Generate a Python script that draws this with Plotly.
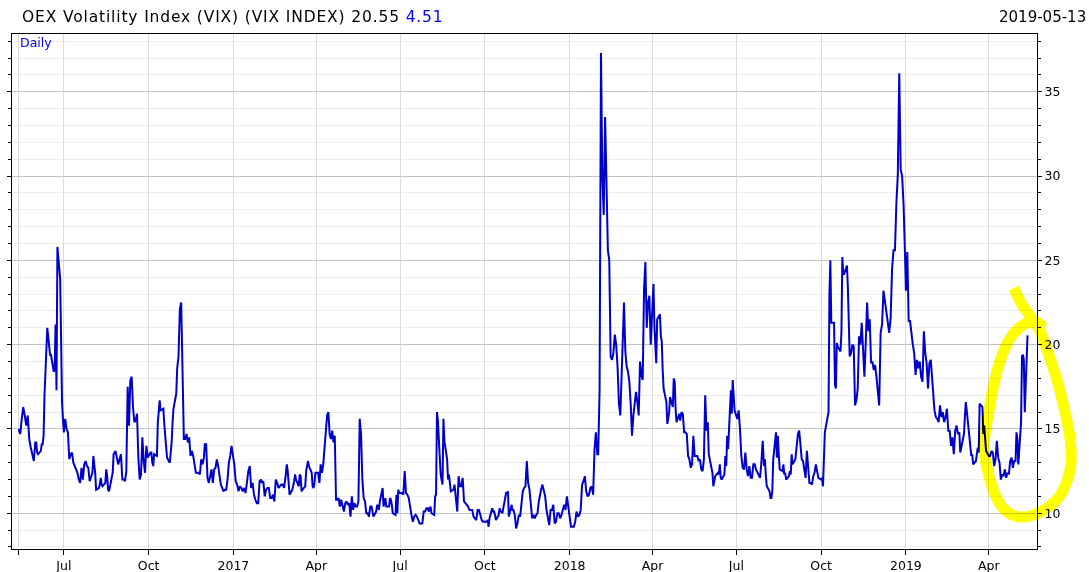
import numpy as np
import pandas as pd
import plotly.graph_objects as go

# ---------------- data: VIX daily closes, one list per month ----------------
vix_2016_05 = [15.0, 14.7, 15.6, 16.3, 15.8, 15.2, 15.8, 14.4, 13.9, 13.4, 13.1, 14.2]
vix_2016_06 = [14.2, 13.6, 13.5, 13.7, 14.1, 14.1, 14.6, 17.0, 21.0, 20.5, 20.1, 19.4, 19.4, 18.4, 18.5, 21.2, 17.3, 25.8, 23.9, 18.8, 16.6, 15.6]
vix_2016_07 = [14.8, 15.6, 15.0, 14.8, 13.2, 13.5, 13.6, 13.0, 12.8, 12.7, 12.4, 12.0, 11.8, 12.7, 12.0, 12.9, 13.1, 12.8, 12.7, 11.9]
vix_2016_08 = [12.4, 13.4, 12.9, 12.4, 11.4, 11.5, 11.7, 12.1, 11.7, 11.6, 11.8, 12.6, 12.2, 11.4, 11.3, 12.3, 12.4, 13.5, 13.6, 13.7, 12.9, 13.1, 13.4]
vix_2016_09 = [13.5, 12.0, 12.0, 11.9, 12.5, 17.5, 15.2, 17.9, 18.1, 16.3, 15.4, 15.5, 15.9, 13.3, 12.0, 12.3, 14.5, 13.1, 12.4, 14.0, 13.3]
vix_2016_10 = [13.6, 13.6, 13.0, 12.8, 13.5, 13.4, 15.4, 15.9, 16.7, 16.1, 16.2, 15.3, 14.4, 13.8, 13.3, 13.0, 13.5, 14.2, 15.4, 16.2, 17.1]
vix_2016_11 = [18.6, 19.3, 22.1, 22.5, 18.7, 14.4, 14.4, 14.7, 14.2, 14.5, 13.4, 13.7, 13.4, 12.9, 12.4, 12.4, 12.4, 12.3, 13.2, 12.9, 13.3]
vix_2016_12 = [14.1, 14.1, 12.1, 11.8, 12.2, 12.6, 11.8, 12.6, 12.7, 13.2, 12.8, 12.2, 11.7, 11.5, 11.3, 11.4, 11.4, 12.0, 13.0, 13.4, 14.0]
vix_2017_01 = [12.9, 11.9, 11.7, 11.3, 11.6, 11.5, 11.3, 11.5, 11.2, 11.9, 12.5, 12.8, 11.5, 11.8, 11.1, 10.8, 10.6, 10.6, 11.9, 12.0]
vix_2017_02 = [11.8, 11.9, 11.0, 11.4, 11.5, 11.5, 10.9, 10.9, 11.1, 10.7, 12.0, 11.8, 11.5, 11.6, 11.7, 11.7, 11.5, 12.1, 12.9]
vix_2017_03 = [12.5, 11.8, 11.1, 11.4, 11.6, 11.9, 12.3, 12.0, 11.6, 12.3, 12.2, 11.3, 11.4, 11.6, 12.5, 12.8, 13.1, 12.8, 12.4, 11.6, 11.5, 11.8, 12.4]
vix_2017_04 = [12.4, 11.8, 12.9, 12.4, 12.9, 14.1, 15.1, 15.8, 16.0, 14.7, 14.4, 14.9, 14.2, 14.6, 10.8, 10.8, 10.9, 10.4, 10.8]
vix_2017_05 = [10.1, 10.6, 10.7, 10.5, 10.6, 9.8, 11.0, 10.2, 10.6, 10.4, 10.4, 10.7, 15.6, 14.7, 12.0, 10.9, 10.7, 10.0, 10.0, 9.8, 10.4, 10.4]
vix_2017_06 = [9.9, 9.8, 10.1, 10.5, 10.4, 10.2, 10.7, 11.5, 10.4, 10.6, 10.9, 10.4, 10.4, 10.9, 10.8, 10.5, 10.0, 9.9, 11.1, 10.0, 11.4, 11.2]
vix_2017_07 = [11.2, 11.1, 12.5, 11.2, 11.1, 10.9, 10.3, 9.9, 9.5, 9.8, 9.9, 9.8, 9.6, 9.4, 9.4, 9.4, 10.1, 10.1, 10.3, 10.3]
vix_2017_08 = [10.1, 10.3, 10.4, 10.0, 9.9, 11.0, 11.1, 16.0, 15.5, 12.3, 12.0, 11.7, 15.6, 14.3, 13.2, 12.0, 12.3, 11.6, 11.3, 11.4, 11.7, 11.2, 10.6]
vix_2017_09 = [10.1, 12.2, 11.6, 11.6, 12.1, 10.7, 10.6, 10.5, 10.4, 10.2, 10.2, 10.2, 9.8, 9.7, 9.6, 10.2, 10.2, 9.9, 9.6, 9.5]
vix_2017_10 = [9.5, 9.5, 9.6, 9.2, 9.7, 10.3, 10.1, 10.1, 9.9, 9.6, 9.9, 10.3, 10.1, 10.1, 10.0, 11.1, 11.2, 11.2, 11.3, 9.8, 10.5, 10.2]
vix_2017_11 = [10.2, 9.9, 9.1, 9.4, 9.9, 9.8, 10.5, 11.3, 11.5, 11.6, 13.1, 11.8, 11.4, 10.7, 9.7, 9.9, 9.7, 9.9, 10.0, 10.7, 11.3]
vix_2017_12 = [11.4, 11.7, 11.3, 11.0, 10.2, 9.6, 9.3, 10.2, 10.2, 10.5, 9.4, 9.5, 10.0, 10.0, 9.7, 9.9, 10.3, 10.5, 10.2, 11.0]
vix_2018_01 = [9.8, 9.2, 9.2, 9.2, 9.5, 10.1, 9.8, 9.9, 10.2, 11.7, 11.9, 12.2, 11.3, 11.0, 11.1, 11.5, 11.6, 11.1, 13.8, 14.8, 13.5]
vix_2018_02 = [13.5, 17.3, 37.3, 30.0, 27.7, 33.5, 29.1, 25.6, 25.0, 19.3, 19.1, 19.5, 20.6, 20.0, 18.7, 16.5, 15.8, 18.6, 19.9]
vix_2018_03 = [22.5, 19.6, 18.7, 18.4, 17.8, 16.5, 14.6, 15.8, 16.4, 17.2, 16.6, 15.8, 19.0, 18.2, 17.9, 23.3, 24.9, 21.0, 22.5, 22.9, 20.0]
vix_2018_04 = [23.6, 21.1, 20.1, 18.9, 21.5, 21.8, 20.5, 20.2, 18.5, 17.4, 16.6, 15.3, 15.6, 16.0, 16.9, 16.3, 18.0, 17.8, 16.2, 15.4, 15.9]
vix_2018_05 = [15.5, 16.0, 15.9, 14.8, 14.8, 14.7, 13.4, 13.2, 12.7, 12.9, 14.6, 13.4, 13.4, 13.4, 13.1, 13.2, 12.6, 12.5, 13.2, 17.0, 14.9, 15.4]
vix_2018_06 = [13.5, 12.7, 12.4, 11.6, 12.1, 12.2, 12.4, 12.3, 12.9, 12.1, 12.0, 12.3, 13.4, 12.8, 14.6, 13.8, 17.3, 15.9, 17.9, 16.9, 16.1]
vix_2018_07 = [15.6, 16.1, 15.0, 13.4, 12.7, 12.6, 13.6, 12.6, 12.2, 12.8, 12.1, 12.1, 12.9, 12.9, 12.6, 12.4, 12.3, 12.1, 13.0, 14.3, 12.8]
vix_2018_08 = [13.2, 12.2, 11.6, 11.3, 10.9, 10.9, 11.3, 13.2, 14.8, 13.3, 14.6, 13.5, 12.6, 12.5, 12.9, 12.3, 12.4, 12.0, 12.2, 12.5, 12.3, 13.5, 12.9]
vix_2018_09 = [13.2, 13.9, 14.7, 14.9, 14.2, 13.2, 13.1, 12.4, 12.1, 13.7, 12.8, 11.8, 11.8, 11.7, 12.2, 12.4, 12.9, 12.4, 12.1]
vix_2018_10 = [12.0, 12.1, 11.6, 14.2, 14.8, 15.7, 16.0, 23.0, 25.0, 21.3, 21.3, 17.6, 17.4, 20.1, 19.9, 19.6, 20.7, 25.2, 24.2, 24.2, 24.7, 23.4, 21.2]
vix_2018_11 = [19.3, 19.5, 20.0, 19.9, 16.4, 16.7, 17.4, 20.5, 20.0, 21.3, 20.0, 18.1, 20.1, 22.5, 20.8, 21.5, 18.9, 19.0, 18.5, 18.8, 18.1]
vix_2018_12 = [16.4, 20.7, 21.2, 23.2, 22.6, 21.8, 21.5, 20.7, 21.6, 24.5, 25.6, 25.6, 28.4, 30.1, 36.1, 30.4, 30.0, 28.3, 25.4]
vix_2019_01 = [23.2, 25.5, 21.4, 21.4, 20.5, 20.0, 19.5, 18.2, 19.1, 18.6, 19.0, 18.1, 17.8, 20.8, 19.5, 18.9, 17.4, 18.9, 19.1, 17.7, 16.6]
vix_2019_02 = [16.1, 15.7, 15.6, 15.4, 16.4, 15.7, 16.0, 15.4, 15.7, 16.2, 14.9, 14.9, 14.0, 14.5, 13.5, 14.9, 15.2, 14.7, 14.8]
vix_2019_03 = [13.6, 14.6, 14.7, 15.7, 16.6, 16.1, 14.3, 13.8, 13.4, 13.5, 12.9, 13.1, 13.6, 13.9, 13.6, 16.5, 16.3, 14.7, 15.2, 14.4, 13.7]
vix_2019_04 = [13.4, 13.4, 13.7, 13.6, 12.8, 13.2, 14.3, 13.3, 13.0, 12.0, 12.3, 12.2, 12.6, 12.1, 12.4, 12.3, 13.1, 13.3, 12.7, 13.1, 13.1]
vix_2019_05 = [14.8, 14.4, 12.9, 15.4, 19.3, 19.4, 19.1, 16.0, 20.55]

months = [
    ("2016-05", vix_2016_05), ("2016-06", vix_2016_06), ("2016-07", vix_2016_07), ("2016-08", vix_2016_08),
    ("2016-09", vix_2016_09), ("2016-10", vix_2016_10), ("2016-11", vix_2016_11), ("2016-12", vix_2016_12),
    ("2017-01", vix_2017_01), ("2017-02", vix_2017_02), ("2017-03", vix_2017_03), ("2017-04", vix_2017_04),
    ("2017-05", vix_2017_05), ("2017-06", vix_2017_06), ("2017-07", vix_2017_07), ("2017-08", vix_2017_08),
    ("2017-09", vix_2017_09), ("2017-10", vix_2017_10), ("2017-11", vix_2017_11), ("2017-12", vix_2017_12),
    ("2018-01", vix_2018_01), ("2018-02", vix_2018_02), ("2018-03", vix_2018_03), ("2018-04", vix_2018_04),
    ("2018-05", vix_2018_05), ("2018-06", vix_2018_06), ("2018-07", vix_2018_07), ("2018-08", vix_2018_08),
    ("2018-09", vix_2018_09), ("2018-10", vix_2018_10), ("2018-11", vix_2018_11), ("2018-12", vix_2018_12),
    ("2019-01", vix_2019_01), ("2019-02", vix_2019_02), ("2019-03", vix_2019_03), ("2019-04", vix_2019_04),
    ("2019-05", vix_2019_05),
]
series_start = "2016-05-13"
series_end = "2019-05-13"

tick_dates = ["2016-05-13", "2016-07-01", "2016-10-01", "2017-01-01", "2017-04-01", "2017-07-01",
              "2017-10-01", "2018-01-01", "2018-04-01", "2018-07-01", "2018-10-01", "2019-01-01", "2019-04-01"]
tick_labels = ["", "Jul", "Oct", "2017", "Apr", "Jul", "Oct", "2018", "Apr", "Jul", "Oct", "2019", "Apr"]

title_text = "OEX Volatility Index (VIX) (VIX INDEX) 20.55 "
title_change = "4.51"
date_text = "2019-05-13"

# ---------------- build daily series (trading days of each month) ----------------
dates, values = [], []
s0, s1 = pd.Timestamp(series_start), pd.Timestamp(series_end)
for m, vals in months:
    start = pd.Timestamp(m + "-01")
    end = start + pd.offsets.MonthEnd(0)
    start, end = max(start, s0), min(end, s1)
    bd = pd.bdate_range(start, end)
    if len(bd) == len(vals):
        ds = list(bd)
    else:
        ds = list(pd.to_datetime(np.linspace(bd[0].value, bd[-1].value, len(vals))))
    dates.extend(ds)
    values.extend(vals)

# ---------------- figure ----------------
W, H = 1089, 572
ML, MR, MT, MB = 12, 52, 34, 23
PW, PH = W - ML - MR, H - MT - MB

fig = go.Figure()
fig.add_trace(go.Scatter(x=dates, y=values, mode="lines",
                         line=dict(color="#0000cc", width=2), hoverinfo="x+y",
                         showlegend=False))

FONT = "DejaVu Sans, Verdana, sans-serif"

fig.update_layout(
    width=W, height=H,
    margin=dict(l=ML, r=MR, t=MT, b=MB, pad=0, autoexpand=False),
    paper_bgcolor="white", plot_bgcolor="rgba(0,0,0,0)",
    font=dict(family=FONT, size=12, color="black"),
    showlegend=False,
    xaxis=dict(
        type="date", automargin=False,
        range=["2016-05-05 17:00", "2019-05-23 07:00"],
        tickmode="array", tickvals=tick_dates, ticktext=tick_labels,
        showgrid=True, gridcolor="#dcdcdc", gridwidth=1,
        ticks="outside", ticklen=5, tickcolor="black", tickwidth=1,
        showline=True, linecolor="black", linewidth=1, mirror=True,
        tickfont=dict(family=FONT, size=12.5, color="black"),
        zeroline=False,
    ),
    yaxis=dict(
        side="right", automargin=False,
        range=[7.88, 38.43],
        tick0=0, dtick=5,
        showgrid=True, gridcolor="#c4c4c4", gridwidth=1,
        ticks="outside", ticklen=4, tickcolor="black", tickwidth=1,
        minor=dict(dtick=1, tick0=0, showgrid=True, gridcolor="#ececec", gridwidth=1,
                   ticks="outside", ticklen=3, tickcolor="black", tickwidth=1),
        showline=True, linecolor="black", linewidth=1, mirror="ticks",
        tickfont=dict(family=FONT, size=12.5, color="black"),
        zeroline=False,
    ),
)

# title, date, "Daily" label
fig.add_annotation(xref="paper", yref="paper", x=(19.5 - ML) / PW, y=(H - MB - 17) / PH,
                   xanchor="left", yanchor="middle", showarrow=False,
                   text="<span style='letter-spacing:0.85px'>" + title_text
                        + "<span style='color:#0000ff'>" + title_change + "</span></span>",
                   font=dict(family=FONT, size=15.5, color="black"))
fig.add_annotation(xref="paper", yref="paper", x=(1088 - ML) / PW, y=(H - MB - 17) / PH,
                   xanchor="right", yanchor="middle", showarrow=False,
                   text=date_text, font=dict(family=FONT, size=15, color="black"))
fig.add_annotation(xref="paper", yref="paper", x=(18 - ML) / PW, y=(H - MB - 42) / PH,
                   xanchor="left", yanchor="middle", showarrow=False,
                   text="Daily", font=dict(family=FONT, size=12.5, color="#0000ff"))

# yellow hand-drawn highlighter stroke (pixel outline -> paper coordinates, smoothed)
hl_px = [(1014, 288), (1021, 303), (1030, 316), (1040, 331), (1047, 350), (1057, 380), (1065, 412),
         (1070, 438), (1071, 463), (1067, 481), (1059, 497), (1047, 508), (1030, 516), (1015, 516),
         (1003, 508), (994, 492), (987, 468), (984, 447), (986, 428), (989, 410), (993, 388),
         (999, 364), (1006, 346), (1014, 333), (1025, 324), (1036, 322), (1044, 328)]
pts = np.array([((x - ML) / PW, (H - MB - y) / PH) for x, y in hl_px])
path = "M {:.5f},{:.5f}".format(*pts[0])
for i in range(len(pts) - 1):
    p0 = pts[i - 1] if i > 0 else pts[i]
    p1, p2 = pts[i], pts[i + 1]
    p3 = pts[i + 2] if i + 2 < len(pts) else pts[i + 1]
    c1 = p1 + (p2 - p0) / 6
    c2 = p2 - (p3 - p1) / 6
    path += " C {:.5f},{:.5f} {:.5f},{:.5f} {:.5f},{:.5f}".format(c1[0], c1[1], c2[0], c2[1], p2[0], p2[1])
fig.add_shape(type="path", xref="paper", yref="paper", path=path, layer="above",
              line=dict(color="#ffff00", width=11))

post_js = """
document.body.style.margin='0px';
var gd = document.getElementById('{plot_id}');
function hlBlend(){
  gd.querySelectorAll('.shapelayer path').forEach(function(p){ p.style.mixBlendMode='multiply'; });
}
hlBlend();
if (gd.on) { gd.on('plotly_afterplot', hlBlend); }
"""
fig.write_html("out.html", config={"displayModeBar": False}, post_script=post_js)
